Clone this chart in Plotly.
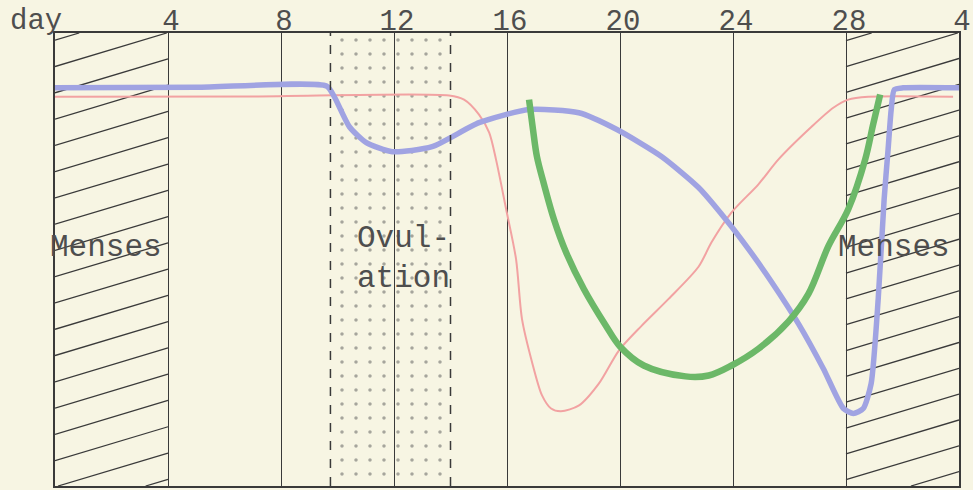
import plotly.graph_objects as go

# ---- data (day of cycle, relative level 0-100) ----
blue_day = [0.0, 5.0, 9.61, 9.89, 10.42, 11.02, 11.94, 13.35, 15.01, 16.78, 18.54, 19.89, 21.48,
            22.78, 23.74, 24.55, 25.36, 26.32, 27.20, 27.91, 28.26, 28.61, 28.89, 29.14,
            29.35, 29.49, 29.60, 29.71, 30.02, 32.0]
blue_val = [87.9, 88.0, 88.3, 85.9, 79.3, 75.8, 73.8, 74.9, 80.2, 83.1, 82.4, 78.7, 72.7,
            65.9, 58.9, 52.3, 45.1, 35.8, 25.9, 17.1, 16.0, 17.1, 22.6, 41.3,
            63.3, 74.3, 83.1, 87.5, 87.9, 87.9]

red_day = [0.0, 7.0, 13.95, 14.48, 15.01, 15.37, 15.61, 15.97, 16.32, 16.53, 16.88, 17.24, 17.56,
           17.91, 18.55, 19.25, 19.96, 20.77, 21.72, 22.78, 23.24, 23.95, 24.90, 25.61,
           26.78, 27.55, 28.08, 28.79, 31.79]
red_val = [85.9, 86.0, 86.2, 85.3, 82.0, 78.0, 72.1, 61.1, 50.1, 36.9, 27.5, 20.0, 17.1,
           16.5, 17.8, 22.6, 29.9, 35.4, 41.3, 48.4, 53.8, 60.4, 66.6, 72.1,
           79.3, 83.5, 85.3, 85.9, 85.9]

green_day = [16.78, 16.92, 17.06, 17.31, 17.66, 18.09, 18.72, 19.50, 20.0, 20.84, 22.32,
             23.14, 23.95, 24.90, 25.96, 26.67, 27.38, 28.08, 28.68, 28.96, 29.21]
green_val = [85.3, 78.7, 72.7, 66.6, 58.9, 51.6, 43.5, 35.4, 30.8, 26.6, 24.2,
             24.4, 26.6, 30.3, 36.3, 42.4, 53.0, 61.1, 72.1, 79.8, 86.4]

tick_days = [4, 8, 12, 16, 20, 24, 28, 32]
tick_labels = ["4", "8", "12", "16", "20", "24", "28", "4"]

menses_periods = [(0, 4), (28, 32)]
ovulation_period = (9.75, 14.0)

# ---- style ----
BG = "#f7f5e3"
INK = "#3a3a3a"
TXT = "#4e4e4e"
FONT = "Liberation Mono"

fig = go.Figure()

# ovulation stipple
o0, o1 = ovulation_period
fig.add_trace(go.Scatter(
    x=[o0, o1, o1, o0, o0], y=[0, 0, 100, 100, 0], mode="lines",
    line=dict(width=0), fill="toself", fillcolor="rgba(0,0,0,0)",
    fillpattern=dict(shape=".", fgcolor="#555", bgcolor="rgba(0,0,0,0)", size=14, solidity=0.05),
    hoverinfo="skip", showlegend=False))

fig.add_trace(go.Scatter(x=red_day, y=red_val, mode="lines",
                         line=dict(color="#f2a2a2", width=2, shape="spline", smoothing=0.8),
                         showlegend=False))
fig.add_trace(go.Scatter(x=blue_day, y=blue_val, mode="lines",
                         line=dict(color="#a0a3e2", width=5.5, shape="spline", smoothing=0.6),
                         showlegend=False))
fig.add_trace(go.Scatter(x=green_day, y=green_val, mode="lines",
                         line=dict(color="#6cb868", width=6.5, shape="spline", smoothing=1.0),
                         showlegend=False))

shapes = []
# hatching for menses regions
slope = 1.87
for (a, b), base0, step in zip(menses_periods, [28.8, 29.9], [5.8, 5.7]):
    for k in range(-12, 14):
        base = base0 + k * step
        xs = a + max(0.0, (0 - base) / slope)
        xe = a + min(b - a, (100 - base) / slope)
        if xe - xs < 0.2:
            continue
        shapes.append(dict(type="line", xref="x", yref="y",
                           x0=xs, y0=base + slope * (xs - a),
                           x1=xe, y1=base + slope * (xe - a),
                           line=dict(color=INK, width=1.3), layer="below"))

# ovulation dashed borders
for xv in ovulation_period:
    shapes.append(dict(type="line", xref="x", yref="y", x0=xv, x1=xv, y0=0, y1=100,
                       line=dict(color=INK, width=1.5, dash="dash")))

annotations = [
    dict(text="day", xref="paper", yref="paper", x=0, y=1.0, xanchor="right", yanchor="bottom",
         xshift=9, yshift=-7, showarrow=False, font=dict(family=FONT, size=29, color=TXT)),
    dict(text="Menses", xref="x", yref="y", x=1.8, y=52.7, showarrow=False,
         font=dict(family=FONT, size=31, color=TXT)),
    dict(text="Menses", xref="x", yref="y", x=29.7, y=52.7, showarrow=False,
         font=dict(family=FONT, size=31, color=TXT)),
    dict(text="Ovul-<br>ation", xref="x", yref="y", x=12.35, y=50.2, showarrow=False,
         align="left", font=dict(family=FONT, size=31, color=TXT)),
]

fig.update_layout(
    width=973, height=490,
    margin=dict(l=55, r=12, t=33, b=2),
    paper_bgcolor=BG, plot_bgcolor=BG,
    shapes=shapes, annotations=annotations,
    xaxis=dict(range=[0, 32], side="top", tickvals=tick_days, ticktext=tick_labels,
               showgrid=True, gridcolor=INK, gridwidth=1.2, zeroline=False,
               showline=True, linecolor=INK, linewidth=1.5, mirror=True,
               ticks="", tickfont=dict(family=FONT, size=29, color=TXT),
               ticklabelstandoff=-10, ticklabelshift=3),
    yaxis=dict(range=[0, 100], showgrid=False, zeroline=False, showticklabels=False,
               showline=True, linecolor=INK, linewidth=1.5, mirror=True, ticks=""),
)

# remove the page's default 8px body margin so the figure fills the window
fig.write_html("out.html",
               config={"displayModeBar": False},
               post_script="document.body.style.margin='0';"
                           "document.body.style.background='%s';" % BG)
